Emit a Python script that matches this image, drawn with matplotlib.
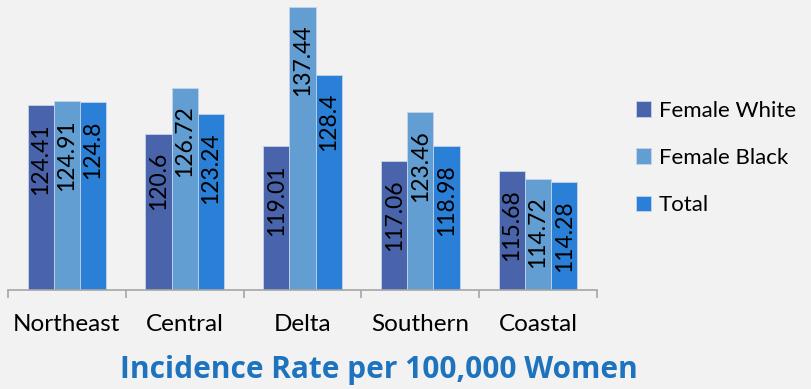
import numpy as np
import matplotlib
matplotlib.use("Agg")
import matplotlib.pyplot as plt

# данные с картинки
regions = ["Northeast", "Central", "Delta", "Southern", "Coastal"]
female_white = [124.41, 120.6, 119.01, 117.06, 115.68]
female_black = [124.91, 126.72, 137.44, 123.46, 114.72]
total = [124.8, 123.24, 128.4, 118.98, 114.28]
value_labels_white = ["124.41", "120.6", "119.01", "117.06", "115.68"]
value_labels_black = ["124.91", "126.72", "137.44", "123.46", "114.72"]
value_labels_total = ["124.8", "123.24", "128.4", "118.98", "114.28"]
series_names = ["Female White", "Female Black", "Total"]
title = "Incidence Rate per 100,000 Women"

colors = ["#4a64ab", "#629ed2", "#2a7fd6"]
bg = "#f2f2f2"

plt.rcParams['font.family'] = ['Lato', 'DejaVu Sans']

fig = plt.figure(figsize=(8.12, 3.89), dpi=100, facecolor=bg)
ax = fig.add_axes([0.0099, 0.2545, 0.7253, 0.7455])
ax.set_facecolor(bg)

x = np.arange(len(regions))
w = 0.222
series = [female_white, female_black, total]
labels = [value_labels_white, value_labels_black, value_labels_total]
for k in range(3):
    xs = x + (k - 1) * w
    ax.bar(xs, series[k], width=w, bottom=0, color=colors[k],
           edgecolor="#c5d3ea", linewidth=0.6, label=series_names[k])
    for xi, v, s in zip(xs, series[k], labels[k]):
        ax.annotate(s, xy=(xi, v), xytext=(0, -13), textcoords="offset points",
                    rotation=90, ha="center", va="top", fontsize=16.5, color="black")

ax.set_ylim(100, 138.3)
ax.set_xlim(-0.5, 4.5)

for s in ["top", "right", "left"]:
    ax.spines[s].set_visible(False)
ax.spines["bottom"].set_color("#a6a6a6")
ax.spines["bottom"].set_linewidth(1.2)
ax.set_yticks([])

ax.set_xticks(np.arange(-0.5, 5, 1.0))
ax.set_xticklabels([])
ax.tick_params(axis="x", which="major", direction="out", length=6, width=1.2, color="#a6a6a6")
ax.set_xticks(x, minor=True)
ax.set_xticklabels(regions, minor=True, fontsize=17.5)
ax.tick_params(axis="x", which="minor", length=0, pad=17)

fig.text(0.467, 0.048, title, ha="center", va="center", fontsize=21.5,
         fontweight="bold", color="#1e73be", family=["Open Sans", "DejaVu Sans"])

leg = fig.legend(loc="upper left", bbox_to_anchor=(0.772, 0.764), frameon=False,
                 fontsize=16, handlelength=0.7, handleheight=0.7, handletextpad=0.35,
                 labelspacing=1.23, borderaxespad=0)

fig.savefig("out.png", dpi=100, facecolor=bg)
